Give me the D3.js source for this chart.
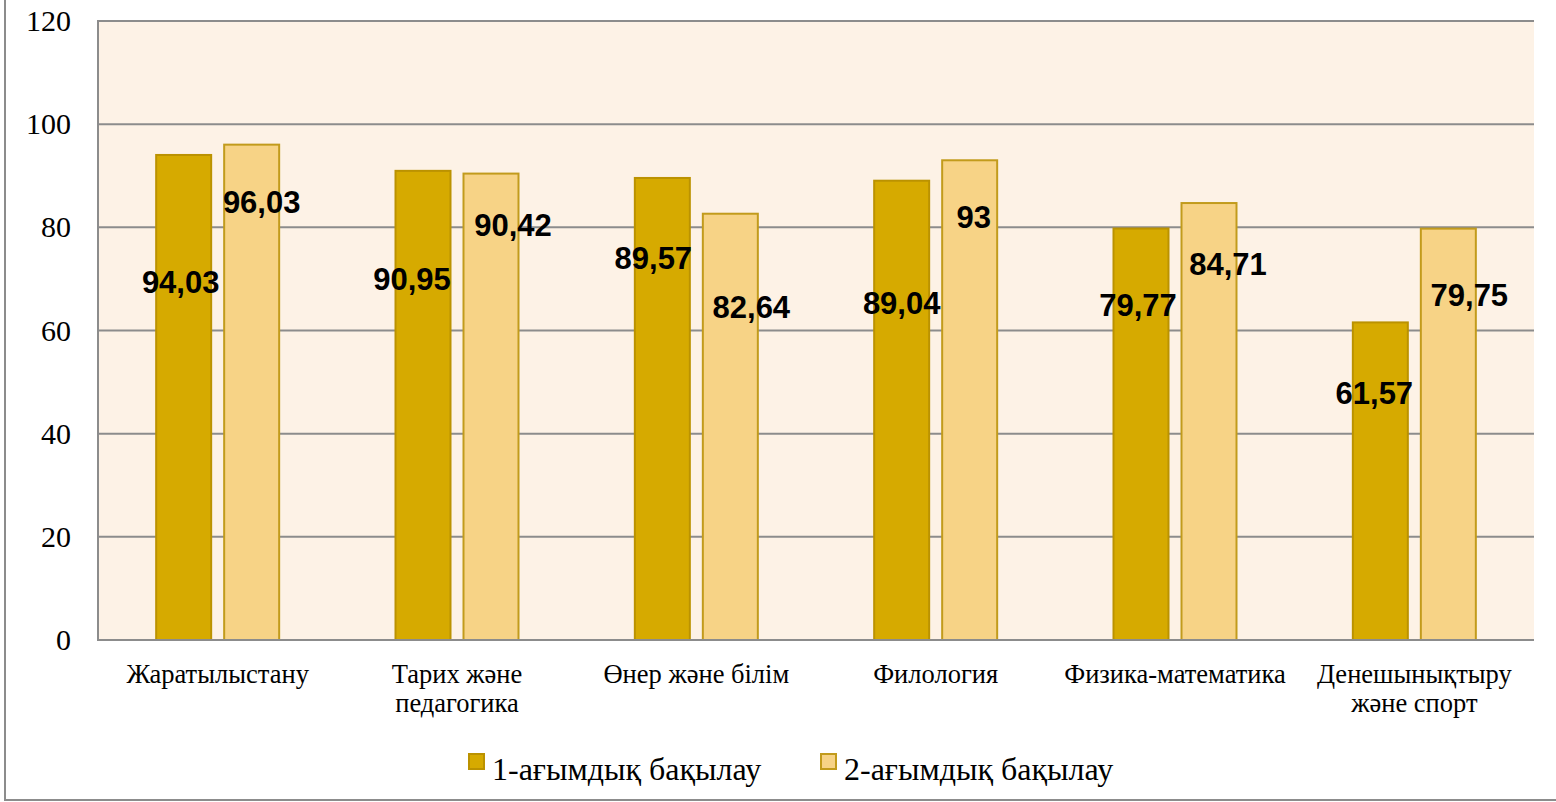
<!doctype html>
<html lang="kk">
<head>
<meta charset="UTF-8">
<title>Ағымдық бақылау</title>
<style>
  body { margin: 0; background: #fff; }
  .cat { font: 26.5px "Liberation Serif", "Times New Roman", serif; fill: #000; }
  .legend { font: 32px "Liberation Serif", "Times New Roman", serif; fill: #000; }
  .val { font: bold 31px "Liberation Sans", Arial, sans-serif; fill: #000; }
</style>
</head>
<body>
<script src="https://cdn.jsdelivr.net/npm/d3@7"></script>
<script>
var categories = [
  ["Жаратылыстану"],
  ["Тарих және", "педагогика"],
  ["Өнер және білім"],
  ["Филология"],
  ["Физика-математика"],
  ["Денешынықтыру", "және спорт"]
];
var seriesNames = ["1-ағымдық бақылау", "2-ағымдық бақылау"];
var current1 = [94.03, 90.95, 89.57, 89.04, 79.77, 61.57];
var current2 = [96.03, 90.42, 82.64, 93, 84.71, 79.75];
var labels1 = ["94,03", "90,95", "89,57", "89,04", "79,77", "61,57"];
var labels2 = ["96,03", "90,42", "82,64", "93", "84,71", "79,75"];
var yTicks = [0, 20, 40, 60, 80, 100, 120];

// where the data labels sit (they were dragged by hand in the original)
var labelAt1 = [69.4, 70.0, 74.1, 65.3, 64.9, 47.9];
var labelAt2 = [84.9, 80.5, 64.6, 82.0, 72.9, 66.9];
var labelDx1 = [-3, -11, -9, 0, -3, -6];
var labelDx2 = [10, 22, 21, 4, 19, 21];

var width = 1556, height = 802;
var plotLeft = 98, plotRight = 1534, plotTop = 21, plotBottom = 640;
var colors = ["#d6aa00", "#f7d386"];
var strokes = ["#bb9200", "#c29b1c"];
var barW = 55, barGap = 13;

var svg = d3.select("body").append("svg")
  .attr("width", width)
  .attr("height", height);

// outer chart frame (only left and bottom edges fall inside the picture)
svg.append("rect")
  .attr("x", 5).attr("y", -10)
  .attr("width", width + 20).attr("height", 810)
  .attr("fill", "none")
  .attr("stroke", "#8c8c8c")
  .attr("stroke-width", 2);

var x = d3.scaleBand()
  .domain(d3.range(categories.length))
  .range([plotLeft, plotRight])
  .padding(0);

var y = d3.scaleLinear()
  .domain([0, 120])
  .range([plotBottom, plotTop]);

svg.append("rect")
  .attr("x", plotLeft).attr("y", plotTop)
  .attr("width", plotRight - plotLeft).attr("height", plotBottom - plotTop)
  .attr("fill", "#fdf2e6");

svg.selectAll("line.grid")
  .data(yTicks)
  .enter()
  .append("line")
  .attr("class", "grid")
  .attr("x1", plotLeft).attr("x2", plotRight)
  .attr("y1", function(d){ return y(d); })
  .attr("y2", function(d){ return y(d); })
  .attr("stroke", "#8c8c8c")
  .attr("stroke-width", 2);

svg.append("line")
  .attr("x1", plotLeft).attr("x2", plotLeft)
  .attr("y1", plotTop - 1).attr("y2", plotBottom + 1)
  .attr("stroke", "#8c8c8c")
  .attr("stroke-width", 2);

var yAxis = d3.axisLeft(y).tickValues(yTicks).tickSize(0).tickPadding(27);
var gy = svg.append("g")
  .attr("transform", "translate(" + plotLeft + ",0)")
  .call(yAxis);
gy.select(".domain").remove();
gy.selectAll("text")
  .style("font-family", '"Liberation Serif", "Times New Roman", serif')
  .style("font-size", "30px")
  .style("fill", "#000");

var series = [current1, current2];
var labelAt = [labelAt1, labelAt2];
var labelDx = [labelDx1, labelDx2];
var labelText = [labels1, labels2];

function barX(s, i) {
  var c = x(i) + x.bandwidth() / 2;
  return s === 0 ? c - barGap / 2 - barW : c + barGap / 2;
}

series.forEach(function(vals, s){
  svg.selectAll("rect.bar" + s)
    .data(vals)
    .enter()
    .append("rect")
    .attr("class", "bar" + s)
    .attr("x", function(d, i){ return barX(s, i); })
    .attr("y", function(d){ return y(d); })
    .attr("width", barW)
    .attr("height", function(d){ return y(0) - y(d); })
    .attr("fill", colors[s])
    .attr("stroke", strokes[s])
    .attr("stroke-width", 2);
});

// redraw the baseline on top of bar bottoms
svg.append("line")
  .attr("x1", plotLeft - 1).attr("x2", plotRight)
  .attr("y1", y(0)).attr("y2", y(0))
  .attr("stroke", "#8c8c8c")
  .attr("stroke-width", 2);

series.forEach(function(vals, s){
  svg.selectAll("text.val" + s)
    .data(vals)
    .enter()
    .append("text")
    .attr("class", "val")
    .attr("x", function(d, i){ return barX(s, i) + barW / 2 + labelDx[s][i]; })
    .attr("y", function(d, i){ return y(labelAt[s][i]); })
    .attr("dy", "0.36em")
    .attr("text-anchor", "middle")
    .text(function(d, i){ return labelText[s][i]; });
});

var cat = svg.selectAll("text.cat")
  .data(categories)
  .enter()
  .append("text")
  .attr("class", "cat")
  .attr("text-anchor", "middle")
  .attr("x", function(d, i){ return x(i) + x.bandwidth() / 2; })
  .attr("y", 683);
cat.selectAll("tspan")
  .data(function(d){ return d; })
  .enter()
  .append("tspan")
  .attr("x", function(){ return d3.select(this.parentNode).attr("x"); })
  .attr("dy", function(d, i){ return i === 0 ? 0 : 29; })
  .text(function(d){ return d; });

// legend
var legendX = [468, 820];
var lg = svg.selectAll("g.lg")
  .data(seriesNames)
  .enter()
  .append("g")
  .attr("class", "lg")
  .attr("transform", function(d, i){ return "translate(" + legendX[i] + ",753)"; });
lg.append("rect")
  .attr("x", 1).attr("y", 1)
  .attr("width", 15).attr("height", 15)
  .attr("fill", function(d, i){ return colors[i]; })
  .attr("stroke", function(d, i){ return strokes[i]; })
  .attr("stroke-width", 2);
lg.append("text")
  .attr("class", "legend")
  .attr("x", 24)
  .attr("y", 27)
  .text(function(d){ return d; });
</script>
</body>
</html>
